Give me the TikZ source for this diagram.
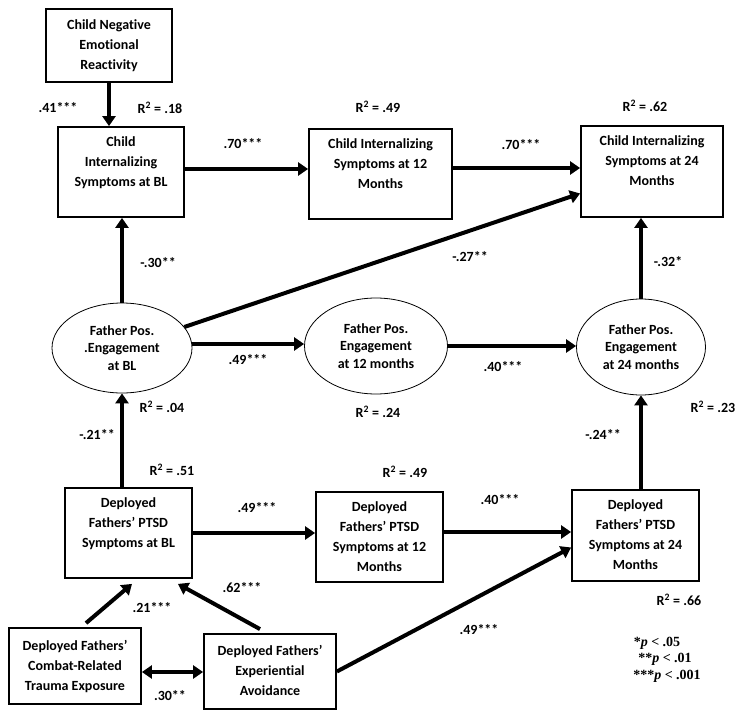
\documentclass[tikz,border=0pt]{standalone}
\usepackage{fontspec}
\setmainfont{Carlito}[Ligatures=NoCommon]
\newfontfamily\timesf{Liberation Serif}
\usetikzlibrary{arrows.meta,shapes.geometric,calc}
\begin{document}
\begin{tikzpicture}[x=1pt,y=-1pt,
  box/.style={draw, line width=1.8pt, inner sep=0pt, align=center, font=\bfseries\fontsize{14}{20}\selectfont},
  oval/.style={draw, ellipse, line width=0.8pt, inner sep=0pt, align=center, font=\bfseries\fontsize{14}{17.5}\selectfont},
  lbl/.style={font=\bfseries\fontsize{14}{17}\selectfont, inner sep=0pt},
  leg/.style={font=\timesf\bfseries\fontsize{14}{16.5}\selectfont, inner sep=0pt},
  arr/.style={line width=4pt, -{Triangle[length=10pt,width=13pt]}},
  darr/.style={line width=4pt, {Triangle[length=10pt,width=13pt]}-{Triangle[length=10pt,width=13pt]}},
]
\useasboundingbox (0,0) rectangle (745,720);

% boxes
\node[box, minimum width=126pt, minimum height=73pt] (b1) at (109,45.5) {\strut Child Negative\\Emotional\\Reactivity\strut};
\node[box, minimum width=126pt, minimum height=90pt] (b2) at (121,172) {\strut Child\\Internalizing\\Symptoms at BL\\\strut};
\node[box, minimum width=143pt, minimum height=90pt] (b3) at (380.5,174) {\strut Child Internalizing\\Symptoms at 12\\Months\\\strut};
\node[box, minimum width=142pt, minimum height=91pt] (b4) at (652,171.5) {\strut Child Internalizing\\Symptoms at 24\\Months\\\strut};
\node[box, minimum width=127pt, minimum height=90pt] (b8) at (128.5,533) {\strut Deployed\\Fathers’ PTSD\\Symptoms at BL\\\strut};
\node[box, minimum width=127pt, minimum height=90pt] (b9) at (379.5,537) {\strut Deployed\\Fathers’ PTSD\\Symptoms at 12\\Months\strut};
\node[box, minimum width=127pt, minimum height=91pt] (b10) at (635.5,535.5) {\strut Deployed\\Fathers’ PTSD\\Symptoms at 24\\Months\strut};
\node[box, minimum width=132pt, minimum height=76pt] (b11) at (75,666) {\strut Deployed Fathers’\\Combat-Related\\Trauma Exposure\strut};
\node[box, minimum width=132pt, minimum height=75pt] (b12) at (270,671.5) {\strut Deployed Fathers’\\Experiential\\Avoidance\strut};

% ellipses
\node[oval, minimum width=140pt, minimum height=90pt] (e1) at (122,348) {Father Pos.\\.Engagement\\at BL};
\node[oval, minimum width=143pt, minimum height=96pt] (e2) at (376,346) {Father Pos.\\Engagement\\at 12 months};
\node[oval, minimum width=129pt, minimum height=96pt] (e3) at (641,347) {Father Pos.\\Engagement\\at 24 months};

% connectors
\draw[arr] (b1.south) -- (b1.south |- b2.north);
\draw[arr] ([yshift=3pt]b2.east) -- ([yshift=3pt]b2.east -| b3.west);
\draw[arr] ([yshift=6pt]b3.east) -- ([yshift=6pt]b3.east -| b4.west);
\draw[arr] (e1.north) -- (e1.north |- b2.south);
\draw[arr] (e1) -- ([yshift=-22pt]b4.west);
\draw[arr] ([yshift=4pt]e1.east) -- ([yshift=4pt]e1.east -| e2.west);
\draw[arr] (e2.east) -- (e2.east -| e3.west);
\draw[arr] (e3.north) -- (e3.north |- b4.south);
\draw[arr] (e3.south |- b10.north) -- (e3.south);
\draw[arr] (e1.south |- b8.north) -- (e1.south);
\draw[arr] (b8.east) -- (b8.east -| b9.west);
\draw[arr] ([yshift=5pt]b9.east) -- ([yshift=5pt]b9.east -| b10.west);
\draw[arr] (b12.east) -- ([yshift=-12pt]b10.west);
\draw[arr] ([xshift=11pt,yshift=4pt]b11.north) -- ([xshift=3.5pt,yshift=-5pt]b8.south);
\draw[arr] ([xshift=-10pt,yshift=4pt]b12.north) -- ([xshift=49.5pt,yshift=-5pt]b8.south);
\draw[darr] ([yshift=-6pt]b11.east) -- ([yshift=-6pt]b11.east -| b12.west);

% labels
\node[lbl] (l1) at (58,108) {.41***};
\node[lbl] (r1) at (160,108) {R\textsuperscript{2} = .18};
\node[lbl] (l2) at (243,144) {.70***};
\node[lbl] (r2) at (378,107) {R\textsuperscript{2} = .49};
\node[lbl] (l3) at (521,145) {.70***};
\node[lbl] (r3) at (645,106) {R\textsuperscript{2} = .62};
\node[lbl] (l4) at (158,263) {-.30**};
\node[lbl] (l5) at (470,257) {-.27**};
\node[lbl] (l6) at (668,262) {-.32*};
\node[lbl] (l7) at (248,360) {.49***};
\node[lbl] (l8) at (503,367) {.40***};
\node[lbl] (r4) at (162,407) {R\textsuperscript{2} = .04};
\node[lbl] (r5) at (378,412) {R\textsuperscript{2} = .24};
\node[lbl] (r6) at (713,407) {R\textsuperscript{2} = .23};
\node[lbl] (l9) at (97,435) {-.21**};
\node[lbl] (l10) at (603,435) {-.24**};
\node[lbl] (r7) at (172,470) {R\textsuperscript{2} = .51};
\node[lbl] (r8) at (405,472) {R\textsuperscript{2} = .49};
\node[lbl] (l11) at (257,508) {.49***};
\node[lbl] (l12) at (500,500) {.40***};
\node[lbl] (l13) at (152,608) {.21***};
\node[lbl] (l14) at (242,588) {.62***};
\node[lbl] (r9) at (679,600) {R\textsuperscript{2} = .66};
\node[lbl] (l15) at (479,630) {.49***};
\node[lbl] (l16) at (170,696) {.30**};

% legend
\node[leg] (g1) at (657,643) {*\textit{p} < .05};
\node[leg] (g2) at (665,659) {**\textit{p} < .01};
\node[leg] (g3) at (667,676) {***\textit{p} < .001};
\end{tikzpicture}
\end{document}
